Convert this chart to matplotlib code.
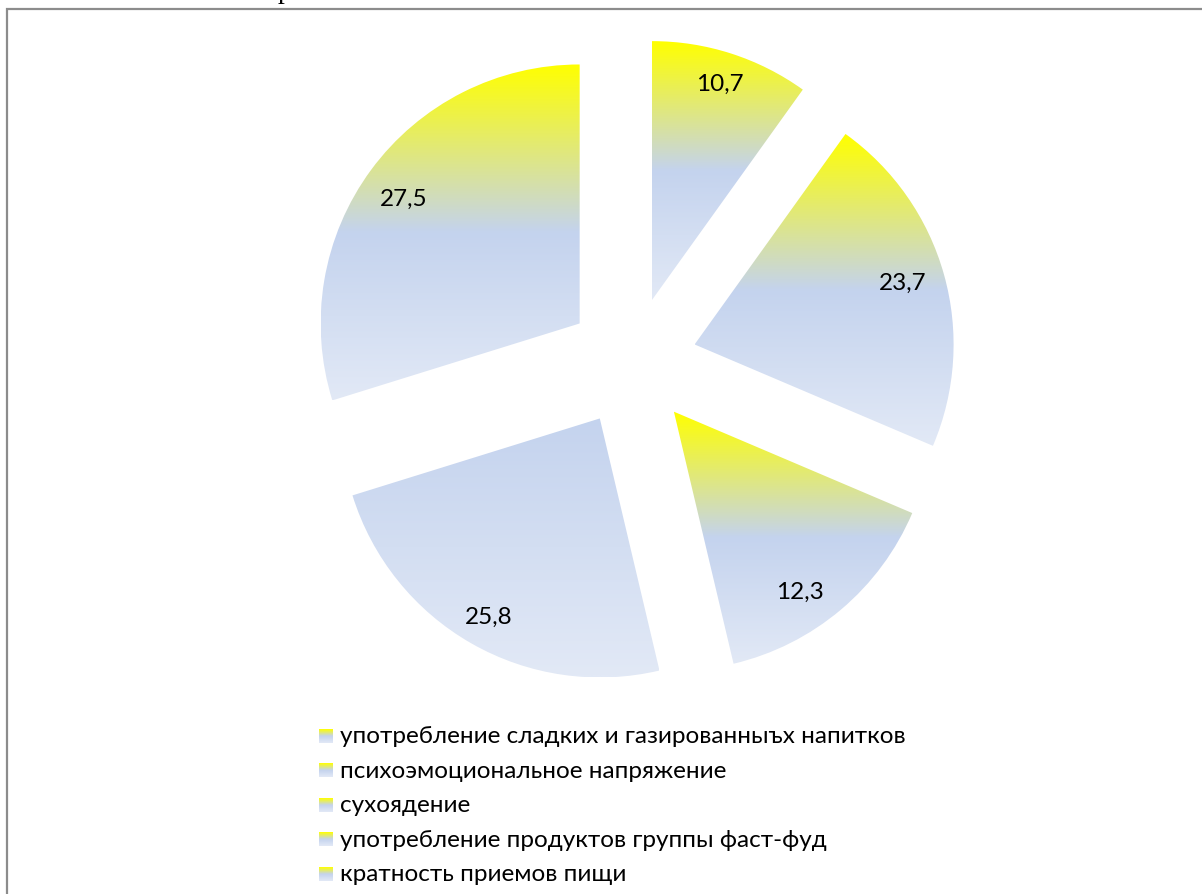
import numpy as np
import matplotlib
matplotlib.use("Agg")
import matplotlib.pyplot as plt
from matplotlib.colors import LinearSegmentedColormap
from matplotlib.patches import Rectangle

# данные диаграммы
categories = ["употребление сладких и газированныъх напитков",
              "психоэмоциональное напряжение",
              "сухоядение",
              "употребление продуктов группы фаст-фуд",
              "кратность приемов пищи"]
values = [10.7, 23.7, 12.3, 25.8, 27.5]          # подписи
shares = [9.9, 21.5, 14.9, 23.9, 29.8]           # размеры секторов на рисунке
# начало градиента для каждого сектора (0 - желтый верх, 0.5 - голубой)
grad_start = [0.0, 0.0, 0.0, 0.5, 0.0]

plt.rcParams['font.family'] = ['Lato', 'DejaVu Sans']

W, H = 1202, 895
fig = plt.figure(figsize=(W / 100, H / 100), dpi=100)
ax = fig.add_axes([0, 0, 1, 1])

cmap = LinearSegmentedColormap.from_list(
    "yb", [(0.0, "#FFFF00"), (0.5, "#C4D3EE"), (1.0, "#E2E9F6")])

cx, cy, r = 632, H - 363, 259
wedges, texts, autotexts = ax.pie(
    shares, explode=[65] * len(shares), radius=r, center=(cx, cy),
    startangle=90, counterclock=False, autopct="%.1f",
    pctdistance=0.86, textprops=dict(fontsize=17.5, color="black"))

for w, g0 in zip(wedges, grad_start):
    w.set_facecolor("none")
    w.set_edgecolor("none")
    ext = w.get_path().get_extents()
    grad = np.linspace(g0, 1, 256).reshape(-1, 1)
    im = ax.imshow(grad, cmap=cmap, vmin=0, vmax=1, origin="upper",
                   extent=[ext.x0, ext.x1, ext.y0, ext.y1],
                   aspect="auto", interpolation="bilinear", zorder=1)
    im.set_clip_path(w)

# подписи (best fit как в Excel: чуть разные расстояния)
lab_dist = [0.878, 0.84, 0.846, 0.875, 0.832]
lab_shift = [0.5, 1.0, -5.0, 0.4, 1.0]
for t, v, w, d, s in zip(autotexts, values, wedges, lab_dist, lab_shift):
    a = np.deg2rad((w.theta1 + w.theta2) / 2 + s)
    t.set_position((w.center[0] + d * r * np.cos(a),
                    w.center[1] + d * r * np.sin(a)))
    t.set_text(("%.1f" % v).replace(".", ","))
    t.set_zorder(3)

# легенда
leg_y0 = H - 737
for i, name in enumerate(categories):
    y = leg_y0 - i * 34.4
    ax.imshow(np.linspace(0, 1, 64).reshape(-1, 1), cmap=cmap, vmin=0, vmax=1,
              origin="upper", extent=[319, 333, y - 7, y + 7],
              aspect="auto", interpolation="bilinear", zorder=2)
    ax.text(340, y, name, fontsize=17.5, va="center", ha="left")

# рамка
ax.add_patch(Rectangle((7, -20), 1230, H - 10 + 20, fill=False,
                       edgecolor="#8C8C8C", linewidth=1.6, zorder=4))
ax.text(278, H + 2, "р", family="Liberation Serif", fontsize=20,
        va="baseline", ha="left")

ax.set_xlim(0, W)
ax.set_ylim(0, H)
ax.set_aspect("auto")
ax.axis("off")

fig.savefig("out.png", dpi=100)
